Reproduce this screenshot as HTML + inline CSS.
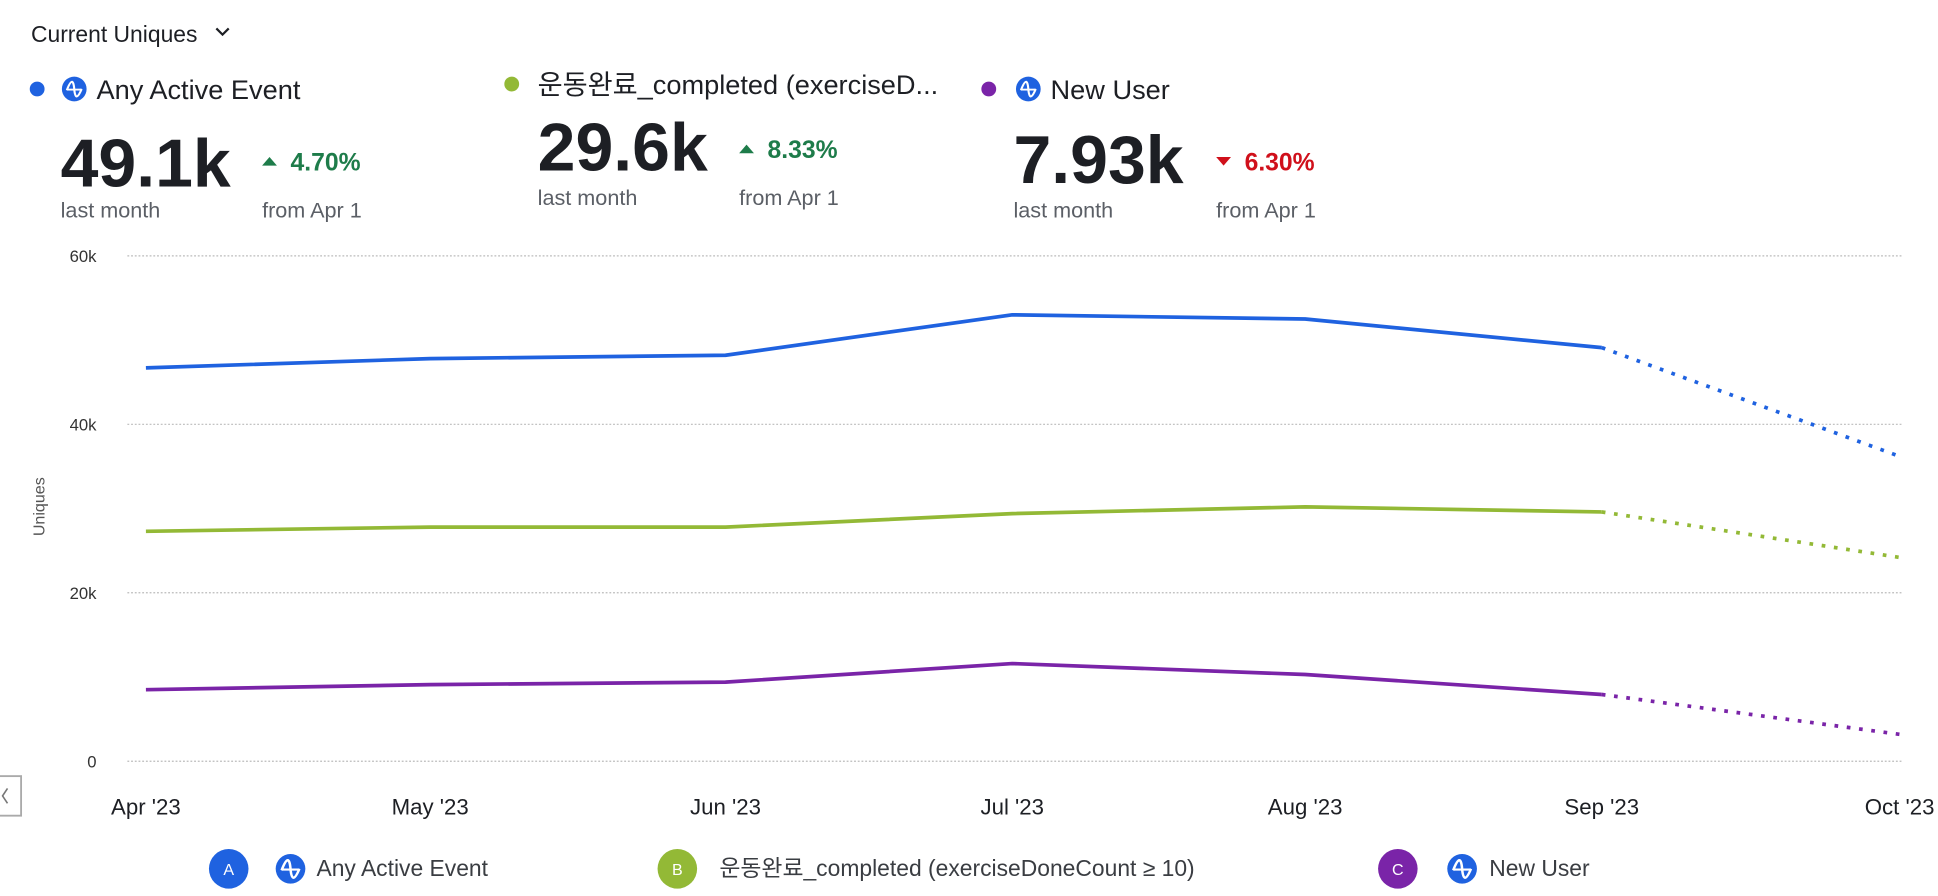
<!DOCTYPE html>
<html><head><meta charset="utf-8">
<style>
html,body{margin:0;padding:0;background:#fff;}
svg{display:block;font-family:"Liberation Sans","Noto Sans CJK KR",sans-serif;}
</style></head>
<body>
<svg id="chart" width="1938" height="896" viewBox="0 0 1568 725" xmlns="http://www.w3.org/2000/svg">
<g>
<text x="25" y="34" font-size="18.5" fill="#1d1f24">Current Uniques</text>
<path d="M175 23 l5 5 l5 -5" fill="none" stroke="#1d1f24" stroke-width="1.8"/>
</g>
<g id="summary"></g>
<g id="grid"></g>
<g id="lines"></g>
<g id="xlabels"></g>
<text x="36" y="410" font-size="13" fill="#555" text-anchor="middle" transform="rotate(-90 36 410)">Uniques</text>
<g>
<rect x="-2" y="628" width="19" height="32" fill="#fff" stroke="#aaa" stroke-width="1.5"/>
<path d="M6 638 l-4 6 l4 6" fill="none" stroke="#777" stroke-width="1.3"/>
</g>
<g id="legend"></g>
</svg>
<script>
const categories=["Apr '23","May '23","Jun '23","Jul '23","Aug '23","Sep '23","Oct '23"];
const seriesNames=["Any Active Event","운동완료_completed (exerciseDoneCount ≥ 10)","New User"];
const seriesA=[46700,47800,48200,53000,52500,49100,36200];
const seriesB=[27300,27800,27800,29400,30200,29600,24200];
const seriesC=[8500,9100,9400,11600,10300,7930,3200];
const yTicks=[0,20000,40000,60000];
const yTickLabels=["0","20k","40k","60k"];
const summaryValues=["49.1k","29.6k","7.93k"];
const summaryChanges=["4.70%","8.33%","6.30%"];
const summaryUp=[true,true,false];

const NS="http://www.w3.org/2000/svg";
const colors=["#1f62e0","#93b936","#7a24a8"];
const xPos=[118,348,587,819,1056,1296,1537];
function xs(i){return xPos[i];}
function y(v){return 616-(v/60000)*(616-207);}
function mk(tag,attrs,parent){const e=document.createElementNS(NS,tag);for(const k in attrs)e.setAttribute(k,attrs[k]);parent.appendChild(e);return e;}

const grid=document.getElementById('grid');
yTicks.forEach((t,i)=>{
  const l=mk('line',{x1:103,x2:1540,y1:y(t),y2:y(t),stroke:'#bbb','stroke-width':1,'stroke-dasharray':'1.5 1.5'},grid);
  
  
  const tx=mk('text',{x:78,y:y(t)+5,'font-size':13.5,fill:'#333','text-anchor':'end'},grid);
  tx.textContent=yTickLabels[i];
  
  
});

const lines=document.getElementById('lines');
[seriesA,seriesB,seriesC].forEach((s,si)=>{
  let d='';
  for(let i=0;i<=5;i++)d+=(i?'L':'M')+xs(i)+' '+y(s[i])+' ';
  const p=mk('path',{d:d,fill:'none',stroke:colors[si],'stroke-width':3,'stroke-linejoin':'round'},lines);
  
  
  const q=mk('path',{d:'M'+xs(5)+' '+y(s[5])+' L'+xs(6)+' '+y(s[6]),fill:'none',stroke:colors[si],'stroke-width':3,'stroke-dasharray':'3 7'},lines);
  
  
});

const xl=document.getElementById('xlabels');
categories.forEach((c,i)=>{
  const t=mk('text',{x:xs(i),y:659,'font-size':18,fill:'#1d1f24','text-anchor':'middle'},xl);
  t.textContent=c;
  
  
});

function ampIcon(g,cx,cy,r){
  mk('circle',{cx:cx,cy:cy,r:r,fill:'#1f62e0'},g);
  mk('path',{d:`M${cx-r*0.6} ${cy+r*0.1} Q${cx-r*0.1} ${cy-r*1.2} ${cx} ${cy} T${cx+r*0.6} ${cy}`,fill:'none',stroke:'#fff','stroke-width':r*0.17},g);
  mk('line',{x1:cx-r*0.6,x2:cx+r*0.6,y1:cy+r*0.05,y2:cy+r*0.05,stroke:'#fff','stroke-width':r*0.15},g);
}

const summ=document.getElementById('summary');
const sumX=[[30,60,78,49,212],[414,null,435,435,598],[800,832,850,820,984]];
const sumY=[0,-4,0];
const shortNames=["Any Active Event","운동완료_completed (exerciseD...","New User"];
sumX.forEach((p,i)=>{
  const dy=sumY[i];
  const g=mk('g',{},summ);
  
  
  mk('circle',{cx:p[0],cy:72+dy,r:6,fill:colors[i]},g);
  if(p[1])ampIcon(g,p[1],72+dy,10);
  const n=mk('text',{x:p[2],y:80+dy,'font-size':22,fill:'#1d1f24'},g);n.textContent=shortNames[i];
  const v=mk('text',{x:p[3],y:151,'font-size':55,'font-weight':'bold',fill:'#1d1f24'},g);
  v.setAttribute('y',i==1?138:(i==2?148:151));
  v.textContent=summaryValues[i];
  const cy=i==1?121:131;
  const col=summaryUp[i]?'#1e7c4a':'#d0101b';
  mk('path',{d:summaryUp[i]?`M${p[4]} ${cy+3} l6 -7 l6 7z`:`M${p[4]} ${cy-4} l6 7 l6 -7z`,fill:col},g);
  const c=mk('text',{x:p[4]+23,y:cy+7,'font-size':20,'font-weight':'bold',fill:col},g);c.textContent=summaryChanges[i];
  const ly=i==1?166:176;
  const a=mk('text',{x:p[3],y:ly,'font-size':17.5,fill:'#5b5f66'},g);a.textContent='last month';
  const b=mk('text',{x:p[4],y:ly,'font-size':17.5,fill:'#5b5f66'},g);b.textContent='from Apr 1';
});

const leg=document.getElementById('legend');
const legX=[[185,235,256],[548,null,582],[1131,1183,1205]];
legX.forEach((p,i)=>{
  const g=mk('g',{},leg);
  
  
  mk('circle',{cx:p[0],cy:703,r:16,fill:colors[i]},g);
  const l=mk('text',{x:p[0],y:708,'font-size':13,fill:'#fff','text-anchor':'middle'},g);l.textContent='ABC'[i];
  if(p[1])ampIcon(g,p[1],703,12);
  const t=mk('text',{x:p[2],y:709,'font-size':18.5,fill:'#3a3d42'},g);t.textContent=seriesNames[i];
});
</script>
</body></html>
